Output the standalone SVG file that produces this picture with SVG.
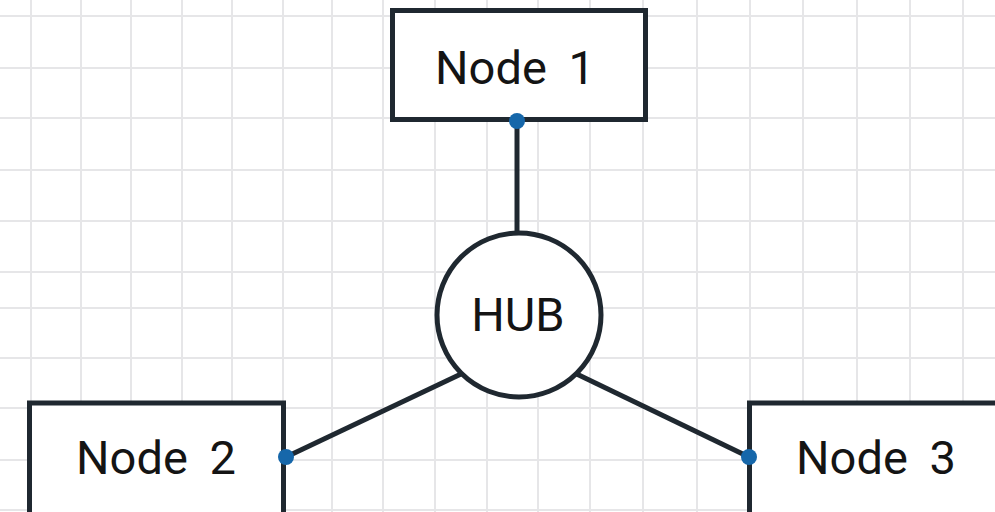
<svg xmlns="http://www.w3.org/2000/svg" width="995" height="512" viewBox="0 0 995 512">
  <style>
    .grid line { stroke: #e6e6e8; stroke-width: 2; }
    .box { fill: #ffffff; stroke: #1f2830; stroke-width: 5; }
    .hub { fill: #ffffff; stroke: #1f2830; stroke-width: 5; }
    .lbl { font-family: Roboto, "Liberation Sans", sans-serif; font-size: 47px; fill: #141414; text-anchor: middle; white-space: pre; }
    .conn line { stroke: #1f2830; stroke-width: 5; }
    .dot { fill: #1667aa; }
  </style>
  <rect width="995" height="512" fill="#ffffff"/>
  <g class="grid">
    <line x1="31" y1="0" x2="31" y2="512"/>
    <line x1="81" y1="0" x2="81" y2="512"/>
    <line x1="131" y1="0" x2="131" y2="512"/>
    <line x1="182" y1="0" x2="182" y2="512"/>
    <line x1="232" y1="0" x2="232" y2="512"/>
    <line x1="283" y1="0" x2="283" y2="512"/>
    <line x1="332" y1="0" x2="332" y2="512"/>
    <line x1="383" y1="0" x2="383" y2="512"/>
    <line x1="435" y1="0" x2="435" y2="512"/>
    <line x1="487" y1="0" x2="487" y2="512"/>
    <line x1="538" y1="0" x2="538" y2="512"/>
    <line x1="590" y1="0" x2="590" y2="512"/>
    <line x1="643" y1="0" x2="643" y2="512"/>
    <line x1="697" y1="0" x2="697" y2="512"/>
    <line x1="750" y1="0" x2="750" y2="512"/>
    <line x1="803" y1="0" x2="803" y2="512"/>
    <line x1="857" y1="0" x2="857" y2="512"/>
    <line x1="910" y1="0" x2="910" y2="512"/>
    <line x1="963" y1="0" x2="963" y2="512"/>
    <line x1="0" y1="16" x2="995" y2="16"/>
    <line x1="0" y1="68" x2="995" y2="68"/>
    <line x1="0" y1="118" x2="995" y2="118"/>
    <line x1="0" y1="170" x2="995" y2="170"/>
    <line x1="0" y1="221" x2="995" y2="221"/>
    <line x1="0" y1="272" x2="995" y2="272"/>
    <line x1="0" y1="308" x2="995" y2="308"/>
    <line x1="0" y1="358" x2="995" y2="358"/>
    <line x1="0" y1="408" x2="995" y2="408"/>
    <line x1="0" y1="460" x2="995" y2="460"/>
    <line x1="0" y1="510" x2="995" y2="510"/>
  </g>
  <g id="connectors" class="conn">
    <line x1="517" y1="121" x2="517" y2="240"/>
    <line x1="286" y1="457" x2="480" y2="365"/>
    <line x1="749" y1="457" x2="558" y2="365"/>
  </g>
  <g id="hub">
    <circle class="hub" cx="519" cy="315" r="82"/>
    <text class="lbl" x="518" y="331">HUB</text>
  </g>
  <g id="node1">
    <rect class="box" x="392.5" y="10.5" width="253" height="109"/>
    <text class="lbl" x="515" y="84">Node <tspan dx="10">1</tspan></text>
    <circle class="dot" cx="517" cy="121" r="8"/>
  </g>
  <g id="node2">
    <rect class="box" x="29.5" y="403" width="254" height="130"/>
    <text class="lbl" x="156" y="474">Node <tspan dx="10">2</tspan></text>
    <circle class="dot" cx="286" cy="457" r="8"/>
  </g>
  <g id="node3">
    <rect class="box" x="749.5" y="403" width="300" height="130"/>
    <text class="lbl" x="876" y="474">Node <tspan dx="10">3</tspan></text>
    <circle class="dot" cx="749" cy="457" r="8"/>
  </g>
</svg>
